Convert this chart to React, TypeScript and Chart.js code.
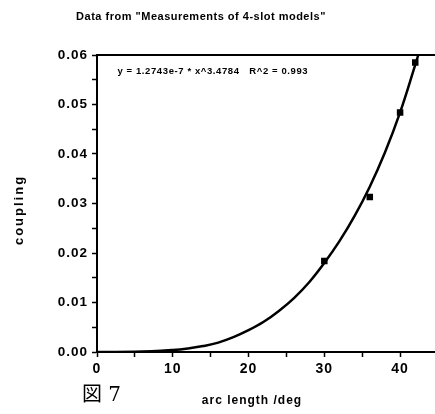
import React, { useEffect, useRef } from 'react';
import { Chart, registerables } from 'chart.js';

Chart.register(...registerables);

const chartTitle = 'Data from "Measurements of 4-slot models"';
const xTitle = 'arc length /deg';
const yTitle = 'coupling';
const figureLabel = '図 7';
const fitLabel = 'y = 1.2743e-7 * x^3.4784   R^2 = 0.993';

// measured points (arc length /deg, coupling)
const measuredX = [30, 36, 40, 42];
const measuredY = [0.0184, 0.0313, 0.0484, 0.0585];

// fitted curve
const fitX = [0, 5, 10, 12, 14, 16, 18, 20, 22, 24, 26, 28, 30, 32, 34, 36, 38, 40, 42, 42.4];
const fitY = [0, 0.00003, 0.0004, 0.0007, 0.0012, 0.0019, 0.003, 0.0044, 0.0061, 0.0083, 0.0109, 0.0141, 0.018, 0.0224, 0.0275, 0.0334, 0.0403, 0.0484, 0.058, 0.06];

// axis ticks
const xMajorTicks = [0, 10, 20, 30, 40];
const xMinorTicks = [5, 15, 25, 35];
const xMax = 44.66;
const yMajorTicks = [0, 0.01, 0.02, 0.03, 0.04, 0.05, 0.06];
const yMinorTicks = [0.005, 0.015, 0.025, 0.035, 0.045, 0.055];

const FONT = '"Liberation Sans", Arial, Helvetica, sans-serif';

const spacingPlugin = {
  id: 'tickSpacing',
  beforeDraw(chart: any) {
    (chart.ctx as any).letterSpacing = '1px';
  },
};

const textPlugin = {
  id: 'figureText',
  afterDraw(chart: any) {
    const ctx = chart.ctx as CanvasRenderingContext2D;
    const { chartArea, scales } = chart;
    const xs = scales.x;
    const ys = scales.y;
    ctx.save();
    // top frame line at y max
    ctx.strokeStyle = '#000';
    ctx.lineWidth = 2;
    const yTop = ys.getPixelForValue(yMajorTicks[yMajorTicks.length - 1]);
    ctx.beginPath();
    ctx.moveTo(chartArea.left, yTop);
    ctx.lineTo(chartArea.right, yTop);
    ctx.stroke();

    ctx.fillStyle = '#000';
    // title
    ctx.font = `bold 11px ${FONT}`;
    ctx.textAlign = 'center';
    ctx.textBaseline = 'middle';
    (ctx as any).letterSpacing = '0.5px';
    ctx.fillText(chartTitle, 201, 17);

    // fit equation
    ctx.font = `bold 9.5px ${FONT}`;
    ctx.textAlign = 'left';
    (ctx as any).letterSpacing = '0.6px';
    ctx.fillText(fitLabel, xs.getPixelForValue(2.7), ys.getPixelForValue(0.0566));

    // x title
    ctx.font = `bold 12px ${FONT}`;
    ctx.textAlign = 'center';
    (ctx as any).letterSpacing = '1px';
    ctx.fillText(xTitle, 252, 401);

    // figure label
    (ctx as any).letterSpacing = '0px';
    ctx.font = `20px "DejaVu Serif", "Noto Sans CJK JP", serif`;
    ctx.textAlign = 'left';
    ctx.fillText(figureLabel, 82, 396);

    // y title
    ctx.translate(19, 210);
    ctx.rotate(-Math.PI / 2);
    ctx.font = `bold 13px ${FONT}`;
    ctx.textAlign = 'center';
    (ctx as any).letterSpacing = '2px';
    ctx.fillText(yTitle, 0, 0);
    ctx.restore();
    (ctx as any).letterSpacing = '0px';
  },
};

export default function App() {
  const ref = useRef<HTMLCanvasElement | null>(null);
  useEffect(() => {
    document.body.style.margin = '0';
    const canvas = ref.current;
    if (!canvas) return;
    const chart = new Chart(canvas, {
      type: 'scatter',
      data: {
        datasets: [
          {
            label: 'fit',
            data: fitX.map((x, i) => ({ x, y: fitY[i] })),
            showLine: true,
            borderColor: '#000',
            borderWidth: 2.5,
            pointRadius: 0,
            tension: 0.4,
            fill: false,
          },
          {
            label: 'measured',
            data: measuredX.map((x, i) => ({ x, y: measuredY[i] })),
            showLine: false,
            pointStyle: 'rect',
            pointRadius: 4.6,
            backgroundColor: '#000',
            borderColor: '#000',
            borderWidth: 0,
          },
        ],
      },
      options: {
        animation: false,
        responsive: false,
        maintainAspectRatio: false,
        layout: { padding: { top: 55, right: 0, bottom: 0, left: 0 } },
        plugins: {
          legend: { display: false },
          tooltip: { enabled: false },
          title: { display: false },
        },
        scales: {
          x: {
            type: 'linear',
            min: 0,
            max: xMax,
            afterBuildTicks: (scale: any) => {
              scale.ticks = [...xMajorTicks, ...xMinorTicks].sort((a, b) => a - b).map((v) => ({ value: v }));
            },
            afterFit: (scale: any) => {
              scale.height = 62;
            },
            ticks: {
              autoSkip: false,
              maxRotation: 0,
              padding: 4,
              color: '#000',
              font: { family: FONT, size: 14, weight: 'bold' },
              callback: (v: any) => (xMajorTicks.includes(Number(v)) ? String(v) : ''),
            },
            grid: {
              drawOnChartArea: false,
              tickLength: 5,
              tickColor: '#000',
              tickWidth: 1.5,
            },
            border: { color: '#000', width: 2 },
          },
          y: {
            type: 'linear',
            min: 0,
            max: 0.06,
            afterBuildTicks: (scale: any) => {
              scale.ticks = [...yMajorTicks, ...yMinorTicks].sort((a, b) => a - b).map((v) => ({ value: v }));
            },
            afterFit: (scale: any) => {
              scale.width = 97;
            },
            ticks: {
              autoSkip: false,
              padding: 4,
              color: '#000',
              font: { family: FONT, size: 13.5, weight: 'bold' },
              callback: (v: any) => {
                const n = Number(v);
                return yMajorTicks.some((t) => Math.abs(t - n) < 1e-9) ? n.toFixed(2) : '';
              },
            },
            grid: {
              drawOnChartArea: false,
              tickLength: 5,
              tickColor: '#000',
              tickWidth: 1.5,
            },
            border: { color: '#000', width: 2 },
          },
        },
      },
      plugins: [spacingPlugin, textPlugin],
    } as any);
    return () => chart.destroy();
  }, []);
  return (
    <div style={{ position: 'fixed', left: 0, top: 0, width: 435, height: 414, overflow: 'hidden', background: '#fff' }}>
      <canvas ref={ref} width={440} height={414} style={{ width: 440, height: 414, display: 'block' }} />
    </div>
  );
}
